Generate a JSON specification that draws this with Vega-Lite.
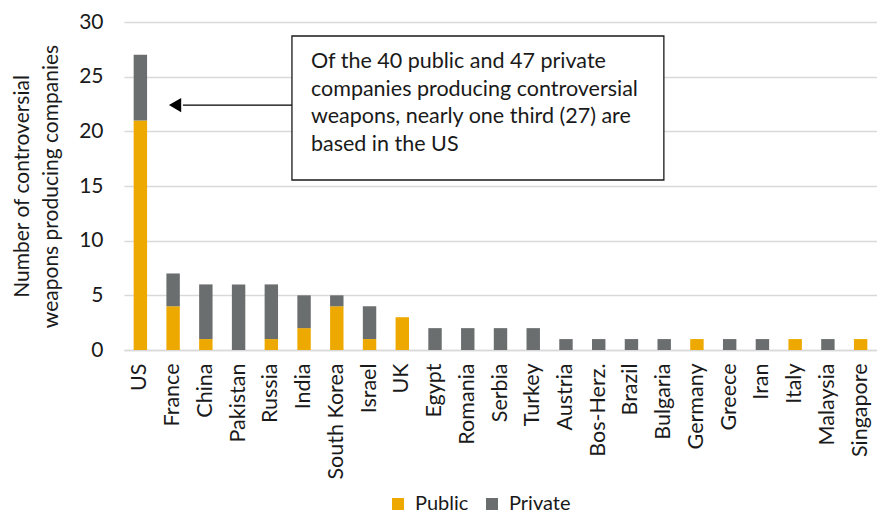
{
  "$schema": "https://vega.github.io/schema/vega-lite/v6.json",
  "width": 753,
  "height": 328,
  "autosize": {"type": "none"},
  "padding": {"left": 124, "top": 22, "right": 0, "bottom": 165},
  "background": "white",
  "config": {
    "view": {"stroke": null},
    "font": "Lato",
    "axis": {"labelFont": "Lato", "titleFont": "Lato", "labelColor": "#1a1a1a", "titleColor": "#1a1a1a"},
    "legend": {"labelFont": "Lato", "labelColor": "#1a1a1a"}
  },
  "datasets": {
    "bars": [
      {"country": "US", "type": "Public", "n": 21}, {"country": "US", "type": "Private", "n": 6},
      {"country": "France", "type": "Public", "n": 4}, {"country": "France", "type": "Private", "n": 3},
      {"country": "China", "type": "Public", "n": 1}, {"country": "China", "type": "Private", "n": 5},
      {"country": "Pakistan", "type": "Public", "n": 0}, {"country": "Pakistan", "type": "Private", "n": 6},
      {"country": "Russia", "type": "Public", "n": 1}, {"country": "Russia", "type": "Private", "n": 5},
      {"country": "India", "type": "Public", "n": 2}, {"country": "India", "type": "Private", "n": 3},
      {"country": "South Korea", "type": "Public", "n": 4}, {"country": "South Korea", "type": "Private", "n": 1},
      {"country": "Israel", "type": "Public", "n": 1}, {"country": "Israel", "type": "Private", "n": 3},
      {"country": "UK", "type": "Public", "n": 3}, {"country": "UK", "type": "Private", "n": 0},
      {"country": "Egypt", "type": "Public", "n": 0}, {"country": "Egypt", "type": "Private", "n": 2},
      {"country": "Romania", "type": "Public", "n": 0}, {"country": "Romania", "type": "Private", "n": 2},
      {"country": "Serbia", "type": "Public", "n": 0}, {"country": "Serbia", "type": "Private", "n": 2},
      {"country": "Turkey", "type": "Public", "n": 0}, {"country": "Turkey", "type": "Private", "n": 2},
      {"country": "Austria", "type": "Public", "n": 0}, {"country": "Austria", "type": "Private", "n": 1},
      {"country": "Bos-Herz.", "type": "Public", "n": 0}, {"country": "Bos-Herz.", "type": "Private", "n": 1},
      {"country": "Brazil", "type": "Public", "n": 0}, {"country": "Brazil", "type": "Private", "n": 1},
      {"country": "Bulgaria", "type": "Public", "n": 0}, {"country": "Bulgaria", "type": "Private", "n": 1},
      {"country": "Germany", "type": "Public", "n": 1}, {"country": "Germany", "type": "Private", "n": 0},
      {"country": "Greece", "type": "Public", "n": 0}, {"country": "Greece", "type": "Private", "n": 1},
      {"country": "Iran", "type": "Public", "n": 0}, {"country": "Iran", "type": "Private", "n": 1},
      {"country": "Italy", "type": "Public", "n": 1}, {"country": "Italy", "type": "Private", "n": 0},
      {"country": "Malaysia", "type": "Public", "n": 0}, {"country": "Malaysia", "type": "Private", "n": 1},
      {"country": "Singapore", "type": "Public", "n": 1}, {"country": "Singapore", "type": "Private", "n": 0}
    ],
    "box": [{"x1": 5.13, "x2": 16.49, "y1": 28.72, "y2": 15.55}],
    "arrow": [{"xs": 5.13, "xe": 1.8, "y": 22.4, "xh": 1.56}],
    "note": [
      {"x": 5.71, "y": 26.34, "t": "Of the 40 public and 47 private"},
      {"x": 5.71, "y": 23.78, "t": "companies producing controversial"},
      {"x": 5.71, "y": 21.31, "t": "weapons, nearly one third (27) are"},
      {"x": 5.71, "y": 18.75, "t": "based in the US"}
    ]
  },
  "layer": [
    {
      "data": {"name": "bars"},
      "mark": {"type": "bar"},
      "encoding": {
        "x": {
          "field": "country", "type": "nominal", "sort": null,
          "scale": {"paddingInner": 0.59, "paddingOuter": 0.295},
          "axis": {
            "title": null, "labelAngle": -90, "labelFontSize": 21.5, "labelPadding": 13,
            "ticks": false, "domain": true, "domainColor": "#d9d9d9", "domainWidth": 1.5,
            "labelAlign": "right", "labelBaseline": "middle"
          }
        },
        "y": {
          "field": "n", "type": "quantitative", "stack": "zero",
          "scale": {"domain": [0, 30], "nice": false},
          "axis": {
            "values": [0, 5, 10, 15, 20, 25, 30],
            "title": ["Number of controversial", "weapons producing companies"],
            "titleFontSize": 21, "titleFontWeight": "normal", "titleLineHeight": 29,
            "titlePadding": 17,
            "labelFontSize": 21, "labelPadding": 21, "ticks": false, "domain": false,
            "grid": true, "gridColor": "#d9d9d9", "gridWidth": 1.5
          }
        },
        "color": {
          "field": "type", "type": "nominal",
          "scale": {"domain": ["Public", "Private"], "range": ["#EEA900", "#6B6E6E"]},
          "legend": {
            "title": null, "orient": "none", "direction": "horizontal",
            "legendX": 264, "legendY": 472,
            "symbolType": "square", "symbolSize": 144, "symbolStrokeWidth": 0,
            "labelFontSize": 20, "labelOffset": 7, "columnPadding": 13
          }
        },
        "order": {"field": "type", "sort": "descending"}
      }
    },
    {
      "data": {"name": "box"},
      "mark": {"type": "rect", "fill": "white", "stroke": "#1a1a1a", "strokeWidth": 1.3},
      "encoding": {
        "x": {"field": "x1", "type": "quantitative", "scale": {"domain": [0, 23], "nice": false, "zero": false}, "axis": null},
        "x2": {"field": "x2"},
        "y": {"field": "y1", "type": "quantitative"},
        "y2": {"field": "y2"}
      }
    },
    {
      "data": {"name": "arrow"},
      "mark": {"type": "rule", "color": "black", "strokeWidth": 1.3},
      "encoding": {
        "x": {"field": "xs", "type": "quantitative", "scale": {"domain": [0, 23], "nice": false, "zero": false}, "axis": null},
        "x2": {"field": "xe"},
        "y": {"field": "y", "type": "quantitative"}
      }
    },
    {
      "data": {"name": "arrow"},
      "mark": {"type": "point", "shape": "triangle-left", "filled": true, "color": "black", "size": 200, "opacity": 1},
      "encoding": {
        "x": {"field": "xh", "type": "quantitative", "scale": {"domain": [0, 23], "nice": false, "zero": false}, "axis": null},
        "y": {"field": "y", "type": "quantitative"}
      }
    },
    {
      "data": {"name": "note"},
      "mark": {"type": "text", "align": "left", "baseline": "middle", "fontSize": 21.5, "color": "#1a1a1a", "font": "Lato"},
      "encoding": {
        "x": {"field": "x", "type": "quantitative", "scale": {"domain": [0, 23], "nice": false, "zero": false}, "axis": null},
        "y": {"field": "y", "type": "quantitative"},
        "text": {"field": "t"}
      }
    }
  ],
  "resolve": {"scale": {"x": "independent"}}
}
